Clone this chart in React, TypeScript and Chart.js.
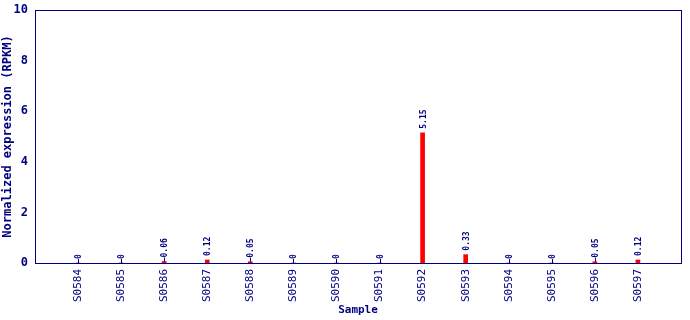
import React, { useEffect, useRef } from "react";
import { Chart, registerables } from "chart.js";

Chart.register(...registerables);

const samples = ["S0584","S0585","S0586","S0587","S0588","S0589","S0590","S0591","S0592","S0593","S0594","S0595","S0596","S0597"];
const values = [0, 0, 0.06, 0.12, 0.05, 0, 0, 0, 5.15, 0.33, 0, 0, 0.05, 0.12];
const valueLabels = ["0","0","0.06","0.12","0.05","0","0","0","5.15","0.33","0","0","0.05","0.12"];
const yTicks = [0, 2, 4, 6, 8, 10];

const NAVY = "#000080";
const MONO = "'DejaVu Sans Mono', 'Liberation Mono', monospace";

export default function App() {
  const ref = useRef<HTMLCanvasElement | null>(null);
  useEffect(() => {
    const labels = ["", ...samples, ""];
    const data = [null, ...values, null];
    const frame = {
      id: "frame",
      afterDraw(chart: any) {
        const { ctx, chartArea: a } = chart;
        ctx.save();
        ctx.strokeStyle = NAVY;
        ctx.lineWidth = 1;
        ctx.strokeRect(Math.round(a.left) + 0.5, Math.round(a.top) + 0.5, Math.round(a.right - a.left), Math.round(a.bottom - a.top));
        const meta = chart.getDatasetMeta(0);
        ctx.fillStyle = NAVY;
        ctx.font = "bold 8px " + MONO;
        ctx.textAlign = "left";
        ctx.textBaseline = "middle";
        meta.data.forEach((bar: any, i: number) => {
          const idx = i - 1;
          if (idx < 0 || idx >= values.length) return;
          const x = Math.round(bar.x);
          const yTop = bar.y;
          if (values[idx] < 0.1) {
            ctx.beginPath();
            ctx.moveTo(x + 0.5, yTop);
            ctx.lineTo(x + 0.5, yTop - 4);
            ctx.lineWidth = 1;
            ctx.stroke();
          }
          ctx.save();
          ctx.translate(x + 0.5, yTop - 4);
          ctx.rotate(-Math.PI / 2);
          ctx.fillText(valueLabels[idx], 0, 0);
          ctx.restore();
        });
        ctx.restore();
      },
    };
    const chart = new Chart(ref.current!, {
      type: "bar",
      data: {
        labels,
        datasets: [{ data, backgroundColor: "#ff0000", barThickness: 4, borderWidth: 0 }],
      },
      options: {
        animation: false,
        responsive: false,
        maintainAspectRatio: false,
        layout: { padding: { left: 0, right: 9, top: 10, bottom: 0 } },
        plugins: { legend: { display: false }, tooltip: { enabled: false } },
        scales: {
          x: {
            offset: false,
            grid: { display: false, drawTicks: false },
            border: { display: false },
            ticks: {
              color: NAVY,
              font: { family: MONO, size: 11 },
              maxRotation: 90,
              minRotation: 90,
              autoSkip: false,
              padding: 6,
            },
            title: { display: true, text: "Sample", color: NAVY, font: { family: MONO, size: 11, weight: "bold" }, padding: { top: 0, bottom: 3 } },
            afterFit: (s: any) => { s.height = 57; s.paddingLeft = 0; s.paddingRight = 0; },
          },
          y: {
            min: 0,
            max: 10,
            afterBuildTicks: (s: any) => { s.ticks = yTicks.map((v) => ({ value: v })); },
            grid: { display: false, drawTicks: true, tickLength: 5, color: NAVY, drawOnChartArea: false },
            border: { display: false },
            ticks: { color: NAVY, font: { family: MONO, size: 12, weight: "bold" }, padding: 2 },
            title: { display: true, text: "Normalized expression (RPKM)", color: NAVY, font: { family: MONO, size: 12, weight: "bold" }, padding: 1 },
            afterFit: (s: any) => { s.width = 35; s.paddingTop = 0; s.paddingBottom = 0; },
          },
        },
      },
      plugins: [frame],
    });
    return () => chart.destroy();
  }, []);
  return (
    <div style={{ position: "fixed", left: 0, top: 0, width: 690, height: 320, background: "#fff" }}>
      <canvas ref={ref} width={690} height={320} style={{ width: 690, height: 320 }} />
    </div>
  );
}
